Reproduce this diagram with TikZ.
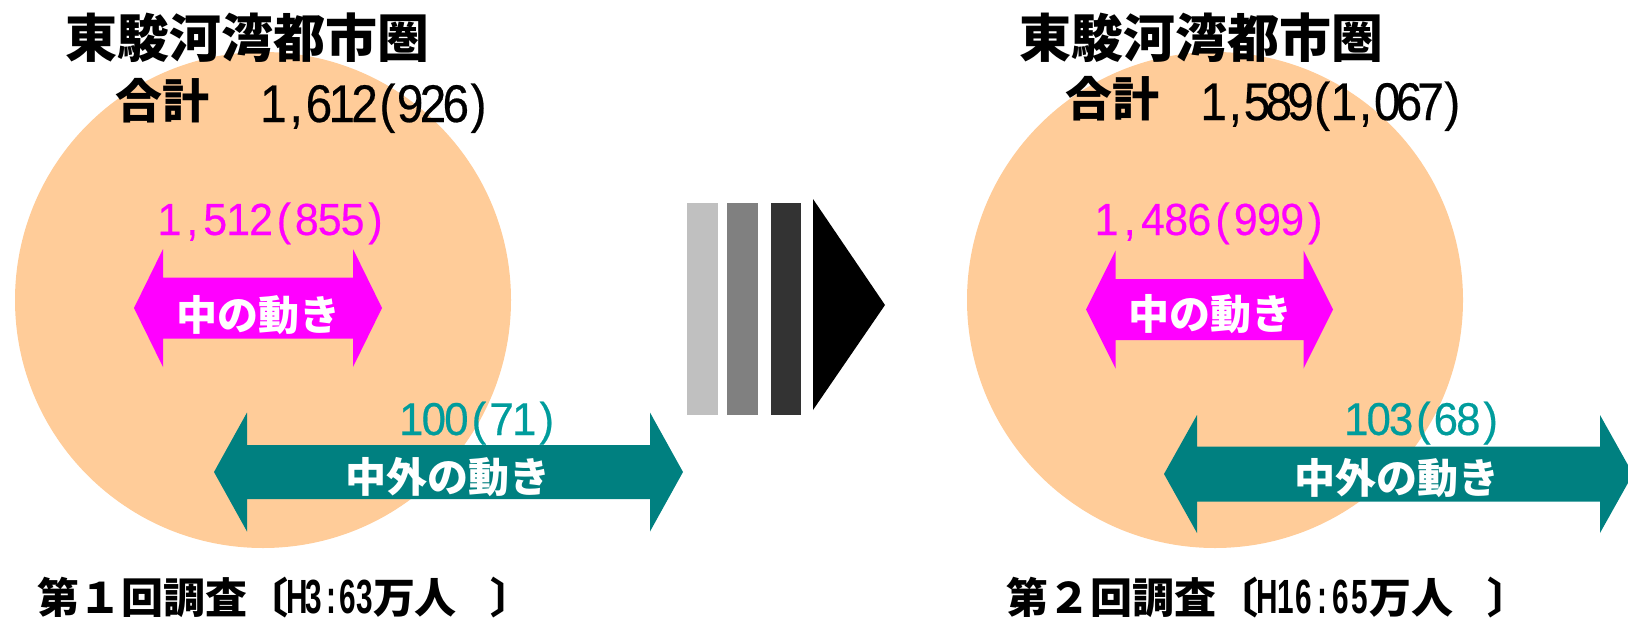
\documentclass[tikz,border=0pt]{standalone}
\usepackage{fontspec}
\newfontfamily\jp{Noto Sans CJK JP}
\newfontfamily\numf[FakeStretch=0.95,FakeBold=0.4]{Liberation Sans}
\newfontfamily\numb[FakeStretch=0.9,FakeBold=0.4]{Liberation Sans}
\newfontfamily\narrowf[FakeStretch=0.62]{Liberation Sans}
\ExplSyntaxOn
\NewDocumentCommand\mono{O{22.5pt}m}{\tl_map_inline:nn{#2}{\makebox[#1][c]{##1}}}
\ExplSyntaxOff
\definecolor{peach}{HTML}{FFCC99}
\definecolor{mag}{HTML}{FF00FF}
\definecolor{tealA}{HTML}{008080}
\definecolor{tealT}{HTML}{009C9C}
\definecolor{g1}{HTML}{C0C0C0}
\definecolor{g2}{HTML}{808080}
\definecolor{g3}{HTML}{333333}
\tikzset{
  every node/.style={inner sep=0pt, outer sep=0pt},
  titletxt/.style={font=\jp\bfseries\fontsize{52}{52}\selectfont, anchor=base},
  sumlbl/.style={font=\jp\bfseries\fontsize{47}{47}\selectfont, anchor=base west},
  sumnum/.style={font=\numb\fontsize{53}{53}\selectfont, anchor=base},
  magnum/.style={font=\numf\fontsize{45}{45}\selectfont, text=mag, anchor=base},
  tealnum/.style={font=\numf\fontsize{46}{46}\selectfont, text=tealT, anchor=base},
  arrowtxt/.style={font=\jp\bfseries\fontsize{41}{41}\selectfont, text=white, anchor=base},
  bottxt/.style={font=\jp\bfseries\fontsize{42}{42}\selectfont, anchor=base west},
  disc/.style={fill=peach},
}
% color, xl, xr, yc, shaft half, head half, head length
\newcommand\dblarrow[7]{%
  \fill[#1] (#2,#4) -- (#2+#7,#4-#6) -- (#2+#7,#4-#5) -- (#3-#7,#4-#5) -- (#3-#7,#4-#6)
    -- (#3,#4) -- (#3-#7,#4+#6) -- (#3-#7,#4+#5) -- (#2+#7,#4+#5) -- (#2+#7,#4+#6) -- cycle;}
\newcommand\cc[1]{\makebox[42pt][c]{#1}}
\newcommand\hwtxt[2]{{\narrowf\fontsize{48}{48}\selectfont\mono[#1]{#2}}}
\begin{document}
\begin{tikzpicture}[x=1pt,y=-1pt]
\useasboundingbox (0,0) rectangle (1628,621);
\clip (0,0) rectangle (1628,621);

% discs
\fill[disc] (263,300) circle[radius=248];
\fill[disc] (1215,300) circle[radius=248];

% left side
\node[titletxt] (t1) at (247,57.5) {東駿河湾都市圏};
\node[sumlbl] (s1) at (115,118.5) {合計};
\node[sumnum] (n1) at (376,122) {\mono[22.8pt]{1,612(926)}};
\dblarrow{mag}{134}{382}{308}{30.5}{59}{29}
\node[magnum] (m1) at (272.5,235) {\mono[22.9pt]{1,512(855)}};
\node[arrowtxt] (a1) at (258,330) {中の動き};
\dblarrow{tealA}{214}{683}{472}{27}{59.5}{33}
\node[tealnum] (e1) at (479,435) {\mono[22.6pt]{100(71)}};
\node[arrowtxt] (b1) at (448,492) {中外の動き};
\node[bottxt] (c1) at (37,613.5) {\cc{第}\cc{１}\cc{回}\cc{調}\cc{査}\cc{〔}\hwtxt{16.8pt}{H3:63}\cc{万}\cc{人}\kern34pt〕};

% transition arrow
\fill[g1] (687,203) rectangle (718,415);
\fill[g2] (727,203) rectangle (758,415);
\fill[g3] (771,203) rectangle (801,415);
\fill[black] (813,199) -- (885,305) -- (813,410) -- cycle;

% right side
\node[titletxt] (t2) at (1201.5,57.5) {東駿河湾都市圏};
\node[sumlbl] (s2) at (1065,116.5) {合計};
\node[sumnum] (n2) at (1333,120) {\mono[21.7pt]{1,589(1,067)}};
\dblarrow{mag}{1086}{1333}{309.5}{30.5}{59}{29.5}
\node[magnum] (m2) at (1211,235) {\mono[23.2pt]{1,486(999)}};
\node[arrowtxt] (a2) at (1210,329) {中の動き};
\dblarrow{tealA}{1164}{1633}{474}{27.5}{59}{33}
\node[tealnum] (e2) at (1423.5,435) {\mono[22.4pt]{103(68)}};
\node[arrowtxt] (b2) at (1397,493) {中外の動き};
\node[bottxt] (c2) at (1006,613.5) {\cc{第}\cc{２}\cc{回}\cc{調}\cc{査}\cc{〔}\hwtxt{18.5pt}{H16:65}\cc{万}\cc{人}\kern35pt〕};
\end{tikzpicture}
\end{document}
